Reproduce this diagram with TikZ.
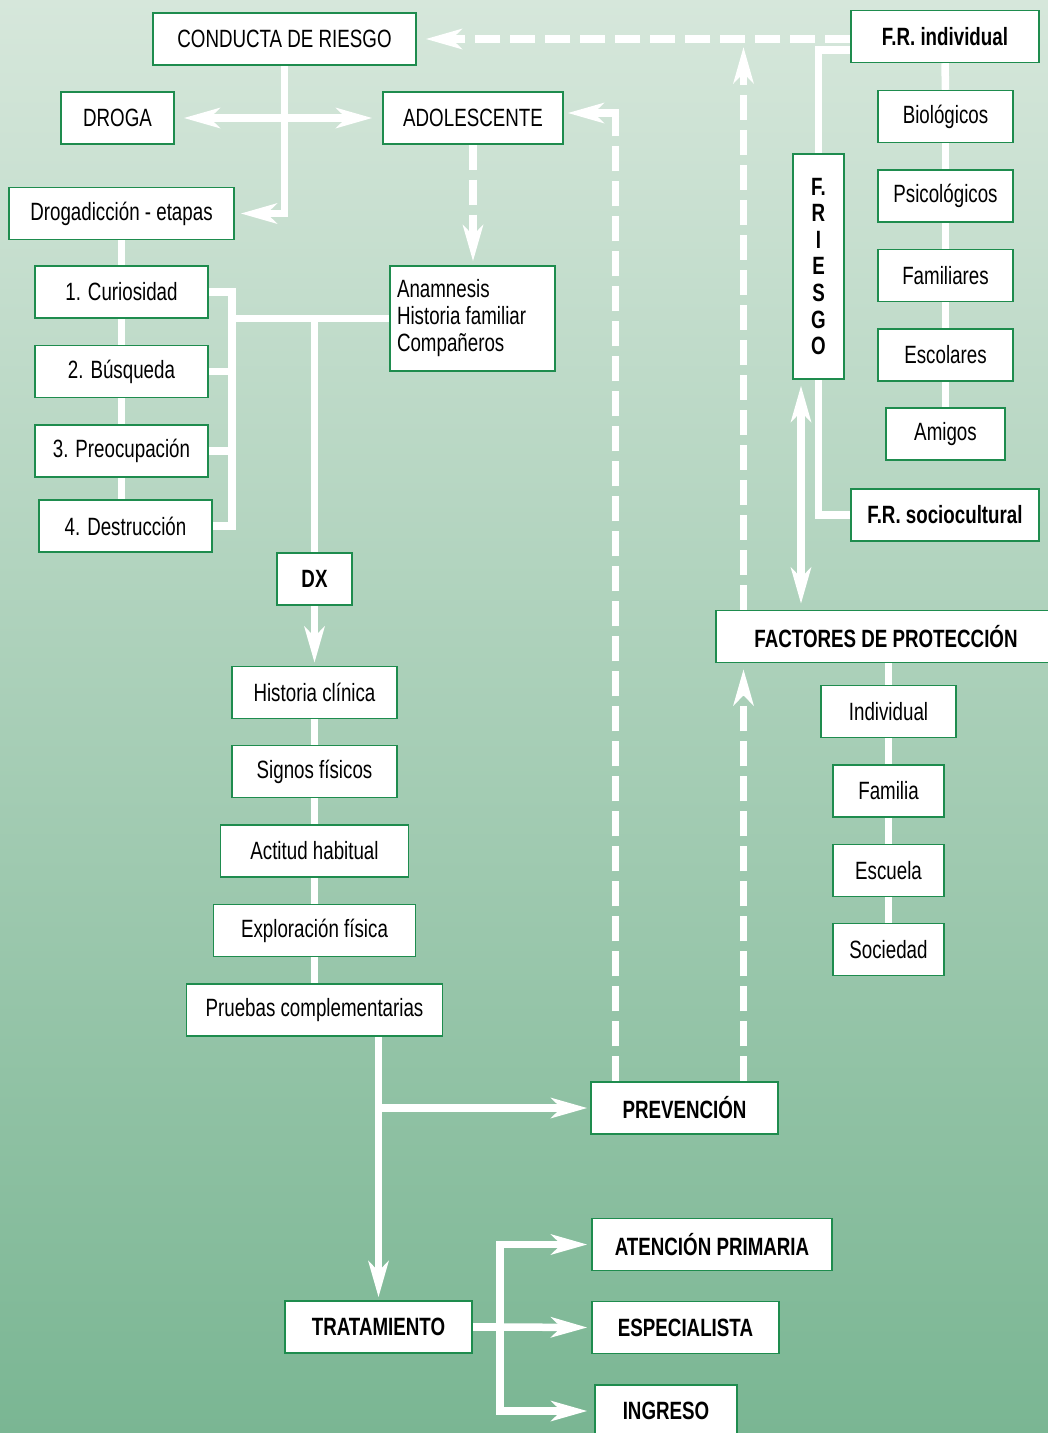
\documentclass[tikz,border=0pt]{standalone}
\usepackage{fontspec}
\setmainfont{Liberation Sans}[FakeStretch=0.75]
\usepackage{tikz}
\usetikzlibrary{arrows.meta,positioning,backgrounds}
\definecolor{boxgreen}{HTML}{1E8C4E}
\definecolor{bgtop}{HTML}{D6E7DB}
\definecolor{bgmid}{HTML}{AFD0BA}
\definecolor{bgbot}{HTML}{7AB693}
\tikzset
{
    flowbox/.style  = {rectangle, draw=boxgreen, fill=white, line width=1.4pt, minimum height=52pt, inner sep=0pt, align=center, font=\fontsize{25}{27}\selectfont},
    flowboxb/.style = {flowbox, font=\fontsize{25}{27}\selectfont\bfseries},
    link/.style     = {draw=white, line width=7.5pt, line join=miter},
    dlink/.style    = {link, dash pattern=on 25pt off 10pt}
}

\begin{document}
\begin{tikzpicture}[x=1pt, y=-1pt, >={Stealth[length=36pt,width=20pt,inset=10pt]}]
    \useasboundingbox (0,0) rectangle (1048,1433);
    \begin{scope}[on background layer]
        \shade [top color=bgtop, middle color=bgmid, bottom color=bgbot] (0,0) rectangle (1048,1433);
    \end{scope}

    \node [flowbox, minimum width=263pt] (conducta) at (284.5,39) {CONDUCTA DE RIESGO};
    \node [flowbox, minimum width=113pt] (droga) at (117.5,118) {DROGA};
    \node [flowbox, minimum width=180pt] (adol) at (473,118) {ADOLESCENTE};
    \node [flowbox, minimum width=225pt] (etapas) at (121.5,213.5) {Drogadicción - etapas};
    \node [flowbox, minimum width=173pt] (cur) at (121.5,292) {1. Curiosidad};
    \node [flowbox, minimum width=173pt] (bus) at (121.5,371.5) {2. Búsqueda};
    \node [flowbox, minimum width=173pt] (pre) at (121.5,451) {3. Preocupación};
    \node [flowbox, minimum width=173pt] (des) at (125.5,526) {4. Destrucción};
    \node [flowbox, text width=151pt, inner xsep=7pt, minimum height=105pt, align=flush left] (anam) at (472.5,318.5) {Anamnesis\\Historia familiar\\Compañeros};

    \node [flowboxb, minimum width=75pt] (dx) at (314.5,579) {DX};
    \node [flowbox, minimum width=165pt] (hclin) at (314.5,692.5) {Historia clínica};
    \node [flowbox, minimum width=165pt] (signos) at (314.5,771.5) {Signos físicos};
    \node [flowbox, minimum width=188pt] (actitud) at (314.5,851) {Actitud habitual};
    \node [flowbox, minimum width=202pt] (explor) at (314.5,930.5) {Exploración física};
    \node [flowbox, minimum width=256pt] (pruebas) at (314.5,1010) {Pruebas complementarias};

    \node [flowboxb, minimum width=187pt] (prev) at (684.5,1108) {PREVENCIÓN};
    \node [flowboxb, minimum width=187pt] (trat) at (378.5,1327) {TRATAMIENTO};
    \node [flowboxb, minimum width=240pt] (aten) at (712,1244.5) {ATENCIÓN PRIMARIA};
    \node [flowboxb, minimum width=187pt] (espec) at (685.5,1327.5) {ESPECIALISTA};
    \node [flowboxb, minimum width=142pt] (ingreso) at (666,1411) {INGRESO};

    \node [flowboxb, minimum width=188pt] (frind) at (945,36.5) {F.R. individual};
    \node [flowbox, minimum width=135pt] (bio) at (945.5,116.5) {Biológicos};
    \node [flowbox, minimum width=135pt] (psi) at (945.5,196) {Psicológicos};
    \node [flowbox, minimum width=135pt] (fam) at (945.5,275.5) {Familiares};
    \node [flowbox, minimum width=135pt] (esc) at (945.5,355) {Escolares};
    \node [flowbox, minimum width=119pt] (ami) at (945.5,434) {Amigos};
    \node [flowboxb, minimum width=51pt, minimum height=225pt, font=\fontsize{25}{26.6}\selectfont\bfseries] (friesgo) at (818.5,266.5) {F.\\R\\I\\E\\S\\G\\O};
    \node [flowboxb, minimum width=188pt] (frsoc) at (945,515) {F.R. sociocultural};

    \node [flowboxb, minimum width=340pt] (fprot) at (886,636.5) {FACTORES DE PROTECCIÓN};
    \node [flowbox, minimum width=135pt] (indiv) at (888.5,711.5) {Individual};
    \node [flowbox, minimum width=111pt] (familia) at (888.5,791) {Familia};
    \node [flowbox, minimum width=111pt] (escuela) at (888.5,870.5) {Escuela};
    \node [flowbox, minimum width=111pt] (sociedad) at (888.5,949.5) {Sociedad};

    \coordinate (brk) at (232,292);
    \coordinate (advtop) at (615.5,113);
    \coordinate (advbend) at (615.5,117);
    \coordinate (protx) at (743.5,600);
    \coordinate (dblx) at (801,500);
    \coordinate (frjoin) at (820,50);
    \coordinate (trbr) at (500,1327);

    \begin{scope}[on background layer]
        \draw [link,->,shorten >=6pt] (conducta.south) |- (etapas.east);
        \draw [link,<->,shorten <=9pt,shorten >=10pt] (droga.east) -- (adol.west);
        \draw [dlink,->,shorten >=4pt] (adol.south) -- (adol.south |- anam.north);

        \draw [link] (etapas.south) -- (cur.north);
        \draw [link] (cur.south) -- (bus.north);
        \draw [link] (bus.south) -- (pre.north);
        \draw [link] (pre.south) -- (pre.south |- des.north);
        \draw [link] (cur.east) -- (cur.east -| brk) -- (des.east -| brk) -- (des.east);
        \draw [link] (bus.east) -- (bus.east -| brk);
        \draw [link] (pre.east) -- (pre.east -| brk);
        \draw [link] (anam.west) -- (anam.west -| brk);
        \draw [link] (dx.north |- anam.west) -- (dx.north);

        \draw [link,->,shorten >=3pt] (dx.south) -- (hclin.north);
        \draw [link] (hclin.south) -- (signos.north);
        \draw [link] (signos.south) -- (actitud.north);
        \draw [link] (actitud.south) -- (explor.north);
        \draw [link] (explor.south) -- (pruebas.north);

        \draw [link,->,shorten >=3pt] (trat.north |- pruebas.south) -- (trat.north);
        \draw [link,->,shorten >=3pt] (trat.north |- prev.west) -- (prev.west);
        \draw [link] (trat.east) -- (trbr);
        \draw [link,->,shorten >=4pt] (trbr) |- (aten.west);
        \draw [link,->,shorten >=4pt] (trbr) -- (espec.west);
        \draw [link,->,shorten >=7pt] (trbr) |- (ingreso.west);

        \draw [dlink] (prev.north -| advbend) -- (advbend);
        \draw [link,->,shorten >=4pt] ([xshift=3.75pt]advtop) -- (adol.east |- advtop);
        \draw [dlink,->,shorten >=6pt] (prev.north -| protx) -- (fprot.south -| protx);
        \draw [dlink,->,shorten >=8pt] (fprot.north -| protx) -- (protx |- conducta.east);
        \draw [dlink,->,shorten >=9pt] (frind.west |- conducta.east) -- (conducta.east);

        \draw [link] (frind.west |- frjoin) -| (friesgo.north);
        \draw [link] (friesgo.south) |- (frsoc.west);
        \draw [link,<->,shorten <=6pt,shorten >=6pt] (friesgo.south -| dblx) -- (fprot.north -| dblx);
        \draw [link] (frind.south) -- (bio.north);
        \draw [link] (bio.south) -- (psi.north);
        \draw [link] (psi.south) -- (fam.north);
        \draw [link] (fam.south) -- (esc.north);
        \draw [link] (esc.south) -- (ami.north);

        \draw [link] (indiv.north |- fprot.south) -- (indiv.north);
        \draw [link] (indiv.south) -- (familia.north);
        \draw [link] (familia.south) -- (escuela.north);
        \draw [link] (escuela.south) -- (sociedad.north);
    \end{scope}
\end{tikzpicture}
\end{document}
